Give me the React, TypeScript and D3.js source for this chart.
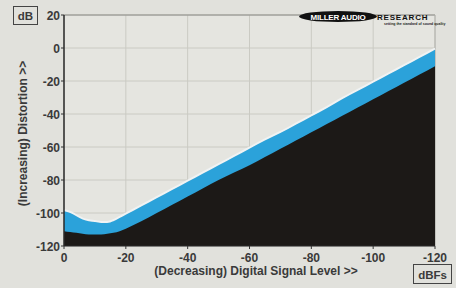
import { useMemo } from 'react';
import * as d3 from 'd3';

const W = 456;
const H = 288;

// signal level (dBFS) across the sweep
const levels = [0, -2, -4, -6, -8, -10, -12, -14, -16, -18, -20, -25, -30, -35, -40, -45, -50, -55, -60, -65, -70, -75, -80, -85, -90, -95, -100, -105, -110, -115, -120];
// upper edge of distortion band (blue)
const distortionMax = [-99, -100, -102, -104, -105, -105.5, -106, -106, -105, -103, -101, -96, -91, -86, -81, -76, -71, -66, -61, -56, -51.5, -46.5, -41.5, -36.5, -31, -26, -21, -16, -11, -6, -1];
// lower edge of distortion band (black fill below)
const distortionMin = [-111, -111.5, -112, -112.5, -113, -113, -113, -112.5, -112, -111, -109.5, -105, -100, -95, -90, -85, -80, -75.5, -71, -66, -61, -56, -51, -46, -41, -36, -31, -26, -21, -16, -11];

const yTicks = [20, 0, -20, -40, -60, -80, -100, -120];
const xTicks = [0, -20, -40, -60, -80, -100, -120];

const font = '"Liberation Sans", Arial, sans-serif';
const ink = '#3a3a3a';

export default function App() {
  const margin = { left: 64, right: 21, top: 15, bottom: 42 };

  const x = useMemo(() => d3.scaleLinear().domain([0, -120]).range([margin.left, W - margin.right]), []);
  const y = useMemo(() => d3.scaleLinear().domain([-120, 20]).range([H - margin.bottom, margin.top]), []);

  const rows = levels.map((l, i) => ({ l, hi: distortionMax[i], lo: distortionMin[i] }));

  const blueArea = d3.area<typeof rows[0]>()
    .x(d => x(d.l))
    .y0(y(-120))
    .y1(d => y(d.hi))
    .curve(d3.curveMonotoneX);

  const blackArea = d3.area<typeof rows[0]>()
    .x(d => x(d.l))
    .y0(y(-120))
    .y1(d => y(d.lo))
    .curve(d3.curveMonotoneX);

  // pale halo along the top of the band
  const hiLine = d3.line<typeof rows[0]>()
    .x(d => x(d.l))
    .y(d => y(d.hi) - 1)
    .curve(d3.curveMonotoneX);

  const x0 = x(0), x1 = x(-120), y0 = y(-120), y1 = y(20);

  return (
    <svg width={W} height={H} style={{ position: 'absolute', left: 0, top: 0, background: '#e1e1dc' }}>
      <rect x={0} y={0} width={W} height={H} fill="#e1e1dc" />
      <rect x={x0} y={y1} width={x1 - x0} height={y0 - y1} fill="#e5e5e0" />

      {/* grid */}
      {yTicks.map(t => (
        <line key={'gy' + t} x1={x0} x2={x1} y1={y(t)} y2={y(t)} stroke="#cacac3" strokeWidth={1} />
      ))}
      {xTicks.map(t => (
        <line key={'gx' + t} x1={x(t)} x2={x(t)} y1={y1} y2={y0} stroke="#cacac3" strokeWidth={1} />
      ))}
      <line x1={x0} x2={x1} y1={y1} y2={y1} stroke="#8a8a86" strokeWidth={1.2} />
      <line x1={x1} x2={x1} y1={y1} y2={y0} stroke="#b0b0aa" strokeWidth={1} />

      {/* data */}
      <path d={hiLine(rows) || ''} fill="none" stroke="#f0f3f4" strokeWidth={2} />
      <path d={blueArea(rows) || ''} fill="#2ba2da" />
      <path d={blackArea(rows) || ''} fill="#1c1917" />

      {/* axes */}
      <line x1={x0} x2={x0} y1={y1} y2={y0} stroke="#2a2a2a" strokeWidth={1.5} />
      <line x1={x0} x2={x1} y1={y0} y2={y0} stroke="#2a2a2a" strokeWidth={1} />
      {yTicks.map(t => (
        <g key={'ty' + t}>
          <line x1={x0 - 3} x2={x0} y1={y(t)} y2={y(t)} stroke="#333" />
          <text x={x0 - 4} y={y(t) + 4.5} textAnchor="end" fontFamily={font} fontWeight="bold" fontSize={12} fill={ink}>{t}</text>
        </g>
      ))}
      {xTicks.map(t => (
        <g key={'tx' + t}>
          <line x1={x(t)} x2={x(t)} y1={y0} y2={y0 + 3} stroke="#333" />
          <text x={x(t)} y={y0 + 16} textAnchor="middle" fontFamily={font} fontWeight="bold" fontSize={12} fill={ink}>{t}</text>
        </g>
      ))}

      {/* unit boxes */}
      <rect x={13.5} y={6.5} width={24} height={18} fill="none" stroke="#444" strokeWidth={1} />
      <text x={25.5} y={19.5} textAnchor="middle" fontFamily={font} fontWeight="bold" fontSize={11.5} fill={ink}>dB</text>
      <rect x={413.5} y={264.5} width={38} height={19} fill="none" stroke="#444" strokeWidth={1} />
      <text x={432.5} y={278.5} textAnchor="middle" fontFamily={font} fontWeight="bold" fontSize={11.5} fill={ink}>dBFs</text>

      {/* axis titles */}
      <text x={256} y={275} textAnchor="middle" fontFamily={font} fontWeight="bold" fontSize={12} fill={ink}>(Decreasing) Digital Signal Level &gt;&gt;</text>
      <text transform={`translate(27,${(y0 + y1) / 2 + 3}) rotate(-90)`} textAnchor="middle" fontFamily={font} fontWeight="bold" fontSize={12} fill={ink}>(Increasing) Distortion &gt;&gt;</text>

      {/* logo */}
      <ellipse cx={338} cy={16.5} rx={39} ry={5.5} fill="#111" />
      <text x={338} y={19.5} textAnchor="middle" fontFamily={font} fontWeight="bold" fontSize={8} fill="#fff" letterSpacing={-0.2}>MILLER AUDIO</text>
      <text x={377} y={19.5} fontFamily={font} fontWeight="bold" fontSize={8} fill="#111" letterSpacing={0.8}>RESEARCH</text>
      <text x={384} y={25} fontFamily={font} fontWeight="bold" fontSize={3.5} fill="#222">setting the standard of sound quality</text>
    </svg>
  );
}
